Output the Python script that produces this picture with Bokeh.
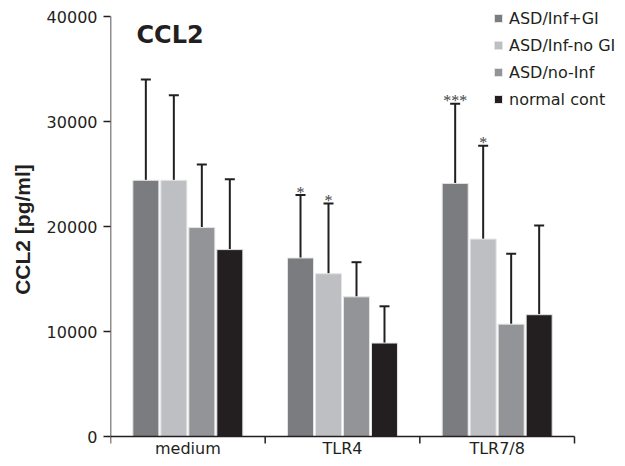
from bokeh.plotting import figure
from bokeh.models import (ColumnDataSource, Range1d, FixedTicker, Whisker, TeeHead,
                          Legend, LegendItem)
from bokeh.core.properties import value
from bokeh.embed import file_html
from bokeh.resources import INLINE

# ---------------- data ----------------
categories = ["medium", "TLR4", "TLR7/8"]
series_names = ["ASD/Inf+GI", "ASD/Inf-no GI", "ASD/no-Inf", "normal cont"]

inf_gi = [24400, 17000, 24100]
inf_nogi = [24400, 15500, 18800]
no_inf = [19900, 13300, 10700]
normal_cont = [17800, 8900, 11600]

inf_gi_upper = [34000, 23000, 31700]
inf_nogi_upper = [32500, 22200, 27700]
no_inf_upper = [25900, 16600, 17400]
normal_cont_upper = [24500, 12400, 20100]

inf_gi_sig = ["", "*", "***"]
inf_nogi_sig = ["", "*", "*"]
no_inf_sig = ["", "", ""]
normal_cont_sig = ["", "", ""]

y_ticks = [0, 10000, 20000, 30000, 40000]

# ---------------- style / layout ----------------
colors = ["#7b7c7f", "#bebfc2", "#939497", "#231f20"]
ink = "#231f20"
FONT = "DejaVu Sans"

W, H = 617, 458
left_px, axis_w_px = 110, 464          # y axis position and length of the x axis
top_px, axis_h_px = 16, 420            # top of y axis and its length
n_cat = len(categories)
y_max = y_ticks[-1]
px_x = axis_w_px / n_cat               # pixels per category
px_y = axis_h_px / y_max               # pixels per unit
x_end = (W - left_px) / px_x
y_start = -(H - top_px - axis_h_px) / px_y
y_end = y_max + top_px / px_y

means = [inf_gi, inf_nogi, no_inf, normal_cont]
uppers = [inf_gi_upper, inf_nogi_upper, no_inf_upper, normal_cont_upper]
sigs = [inf_gi_sig, inf_nogi_sig, no_inf_sig, normal_cont_sig]

p = figure(width=W, height=H, output_backend="svg", toolbar_location=None,
           x_range=Range1d(0, x_end), y_range=Range1d(y_start, y_end),
           min_border_left=left_px, min_border_right=0, min_border_top=0,
           min_border_bottom=0)
p.outline_line_color = None
p.xgrid.visible = False
p.ygrid.visible = False
p.xaxis.visible = False
p.background_fill_color = "white"
p.border_fill_color = "white"

step = 0.181
bar_w = 0.168
offsets = [-1.5 * step, -0.5 * step, 0.5 * step, 1.5 * step]
centers = [i + 0.5 for i in range(n_cat)]

items = []
for k in range(4):
    xs = [c + offsets[k] for c in centers]
    src = ColumnDataSource(dict(x=xs, top=means[k], upper=uppers[k], sig=sigs[k]))
    r = p.vbar(x="x", top="top", bottom=0, width=bar_w, source=src,
               fill_color=colors[k], line_color="#e4e4e4", line_width=1)
    items.append(LegendItem(label=series_names[k], renderers=[r]))
    w = Whisker(base="x", lower="top", upper="upper", source=src,
                line_color=ink, line_width=2,
                upper_head=TeeHead(size=10, line_color=ink, line_width=2),
                lower_head=None)
    p.add_layout(w)
    p.text(x="x", y="upper", text="sig", source=src,
           text_font=value("Liberation Serif"), text_font_size="16px",
           text_color="#444444", text_align="center",
           text_baseline="alphabetic", y_offset=-3)

# x axis drawn as glyphs (line, boundary ticks, category labels)
tick_len = 7 / px_y
bounds = list(range(n_cat + 1))
p.segment(x0=[0], y0=[0], x1=[n_cat], y1=[0], line_color=ink, line_width=1.5)
p.segment(x0=bounds, y0=[0] * len(bounds), x1=bounds, y1=[-tick_len] * len(bounds),
          line_color=ink, line_width=1.5)
p.text(x=centers, y=[0] * n_cat, text=categories, text_font=value(FONT),
       text_font_size="16px", text_color=ink, text_align="center",
       text_baseline="middle", y_offset=12)

# y axis line
p.segment(x0=[0], y0=[y_ticks[0]], x1=[0], y1=[y_max], line_color=ink, line_width=1.5)

ya = p.yaxis[0]
ya.ticker = FixedTicker(ticks=y_ticks)
ya.minor_tick_line_color = None
ya.axis_line_color = None
ya.major_tick_out = 7
ya.major_tick_in = 0
ya.major_tick_line_color = ink
ya.major_tick_line_width = 1.5
ya.major_label_text_font = FONT
ya.major_label_text_font_size = "16px"
ya.major_label_text_color = ink
ya.major_label_standoff = 6
ya.axis_label = "CCL2 [pg/ml]"
ya.axis_label_text_font = "Liberation Sans"
ya.axis_label_text_font_style = "bold"
ya.axis_label_text_font_size = "21px"
ya.axis_label_text_color = ink
ya.axis_label_standoff = 10

# panel title
p.text(x=[0.168], y=[38200], text=["CCL2"], text_font=value(FONT),
       text_font_style="bold", text_font_size="24px", text_color=ink,
       text_align="left", text_baseline="middle")

legend = Legend(items=items, location=(383, 349), orientation="vertical",
                glyph_width=10, glyph_height=10, label_standoff=6,
                label_height=20, spacing=7, padding=0, margin=0,
                border_line_color=None, background_fill_alpha=0,
                label_text_font=FONT, label_text_font_size="16px",
                label_text_color=ink)
p.add_layout(legend, "center")

open("out.html", "w").write(file_html(p, INLINE))
